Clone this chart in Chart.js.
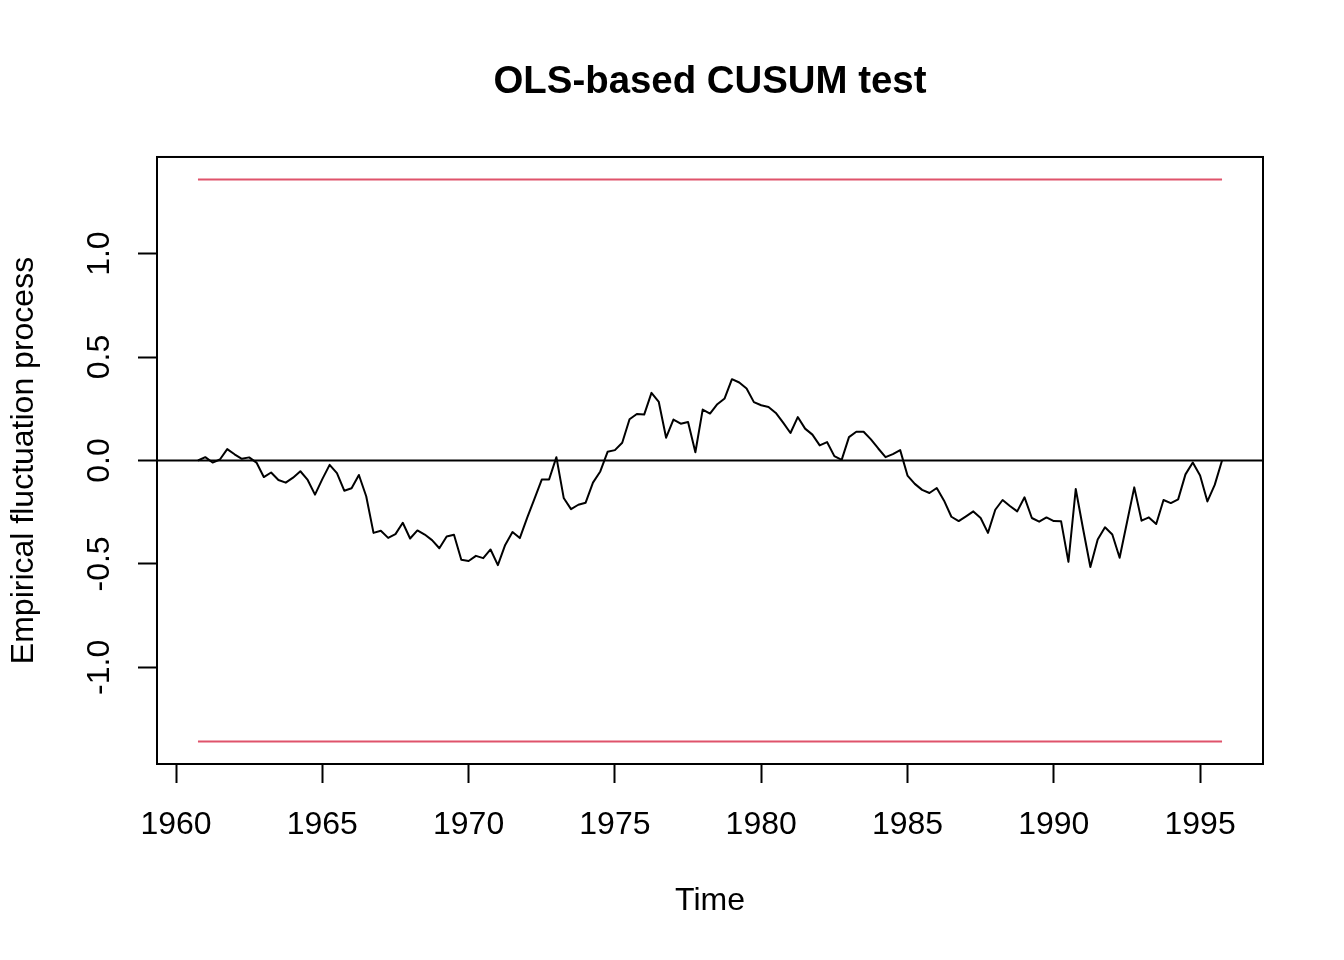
<!DOCTYPE html>
<html>
<head>
<meta charset="utf-8">
<title>OLS-based CUSUM test</title>
<script src="https://cdn.jsdelivr.net/npm/chart.js@4/dist/chart.umd.min.js"></script>
<style>
  body { margin: 0; background: #fff; }
  canvas { display: block; }
</style>
</head>
<body>
<canvas id="cusum" width="1344" height="960"></canvas>
<script>
'use strict';

// quarterly series, 1960 Q4 .. 1995 Q4
var startYear = 1960.75,
    freq = 4;

var process = [
   0.000,  0.016, -0.010,  0.005,  0.055,  0.030,  0.008,  0.015, -0.010, -0.080,
  -0.058, -0.094, -0.107, -0.083, -0.052, -0.094, -0.165, -0.090, -0.021, -0.061,
  -0.146, -0.134, -0.070, -0.173, -0.350, -0.340, -0.374, -0.356, -0.301, -0.377,
  -0.338, -0.358, -0.385, -0.424, -0.367, -0.359, -0.480, -0.486, -0.461, -0.472,
  -0.430, -0.506, -0.408, -0.346, -0.375, -0.277, -0.186, -0.092, -0.092,  0.016,
  -0.181, -0.235, -0.214, -0.204, -0.107, -0.053,  0.042,  0.050,  0.086,  0.199,
   0.225,  0.222,  0.327,  0.283,  0.110,  0.198,  0.178,  0.186,  0.040,  0.246,
   0.227,  0.272,  0.300,  0.393,  0.377,  0.348,  0.282,  0.267,  0.259,  0.230,
   0.183,  0.133,  0.210,  0.154,  0.125,  0.073,  0.089,  0.021,  0.003,  0.113,
   0.139,  0.139,  0.102,  0.058,  0.016,  0.031,  0.050, -0.073, -0.113, -0.142,
  -0.157, -0.133, -0.194, -0.272, -0.293, -0.270, -0.246, -0.278, -0.350, -0.238,
  -0.191, -0.220, -0.246, -0.178, -0.278, -0.296, -0.275, -0.293, -0.294, -0.490,
  -0.138, -0.330, -0.515, -0.382, -0.323, -0.358, -0.470, -0.300, -0.130, -0.291,
  -0.275, -0.307, -0.191, -0.206, -0.188, -0.067, -0.010, -0.073, -0.198, -0.118,
   0.000
];

var boundary = 1.358;           // 5% critical value
var xTicks = [1960, 1965, 1970, 1975, 1980, 1985, 1990, 1995];
var yTicks = [-1.0, -0.5, 0.0, 0.5, 1.0];

// axis ranges (R adds 4% on each side)
var xMin = 1959.35, xMax = 1997.15,
    yMin = -1.467, yMax = 1.467;

var times = process.map(function (v, i) { return startYear + i / freq; });
var tEnd = times[times.length - 1];

var fontFamily = "'Liberation Sans', Arial, Helvetica, sans-serif";
Chart.defaults.font.family = fontFamily;
Chart.defaults.font.size = 32;
Chart.defaults.color = '#000';

// box round the plot region
var frame = {
    id: 'frame',
    afterDraw: function (chart) {
        var a = chart.chartArea, ctx = chart.ctx;
        ctx.save();
        ctx.strokeStyle = '#000';
        ctx.lineWidth = 2;
        ctx.strokeRect(a.left, a.top, a.right - a.left, a.bottom - a.top);
        ctx.restore();
    }
};

function line(points, color) {
    return {
        data: points,
        borderColor: color,
        borderWidth: 2,
        pointRadius: 0,
        tension: 0,
        fill: false,
        borderJoinStyle: 'round'
    };
}

new Chart(document.getElementById('cusum'), {
    type: 'line',
    data: {
        datasets: [
            line(process.map(function (v, i) { return {x: times[i], y: v}; }), '#000'),
            line([{x: xMin, y: 0}, {x: xMax, y: 0}], '#000'),
            line([{x: startYear, y: boundary}, {x: tEnd, y: boundary}], '#DF536B'),
            line([{x: startYear, y: -boundary}, {x: tEnd, y: -boundary}], '#DF536B')
        ]
    },
    options: {
        responsive: false,
        devicePixelRatio: 1,
        animation: false,
        layout: { padding: { left: 0, right: 81, top: 0, bottom: 0 } },
        plugins: {
            legend: { display: false },
            tooltip: { enabled: false },
            title: {
                display: true,
                fullSize: false,
                text: 'OLS-based CUSUM test',
                color: '#000',
                font: { size: 38.4, weight: 'bold', lineHeight: 1.2 },
                padding: { top: 59, bottom: 51.9 }
            }
        },
        scales: {
            x: {
                type: 'linear',
                min: xMin,
                max: xMax,
                afterBuildTicks: function (s) {
                    s.ticks = xTicks.map(function (v) { return {value: v}; });
                },
                afterFit: function (s) { s.height = 196; },
                ticks: {
                    padding: 23,
                    autoSkip: false,
                    maxRotation: 0,
                    callback: function (v) { return String(v); }
                },
                grid: {
                    drawOnChartArea: false,
                    tickLength: 19,
                    tickWidth: 2,
                    tickColor: '#000'
                },
                border: { display: true, color: '#000', width: 2 },
                title: {
                    display: true,
                    text: 'Time',
                    font: { size: 32 },
                    padding: { top: 0, bottom: 40 }
                }
            },
            y: {
                type: 'linear',
                min: yMin,
                max: yMax,
                afterBuildTicks: function (s) {
                    s.ticks = yTicks.map(function (v) { return {value: v}; });
                },
                afterFit: function (s) { s.width = 157; },
                ticks: {
                    padding: 10,
                    minRotation: 90,
                    maxRotation: 90,
                    crossAlign: 'center',
                    callback: function (v) { return v.toFixed(1); }
                },
                grid: {
                    drawOnChartArea: false,
                    tickLength: 19,
                    tickWidth: 2,
                    tickColor: '#000'
                },
                border: { display: true, color: '#000', width: 2 },
                title: {
                    display: true,
                    text: 'Empirical fluctuation process',
                    font: { size: 32 },
                    padding: { top: 5, bottom: 0 }
                }
            }
        }
    },
    plugins: [frame]
});
</script>
</body>
</html>
